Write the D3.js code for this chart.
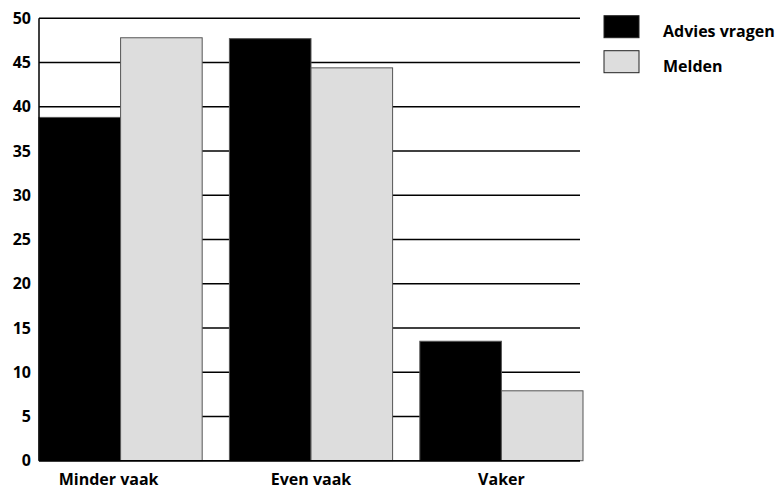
<!DOCTYPE html>
<html>
<head>
<meta charset="utf-8">
<script src="https://cdn.jsdelivr.net/npm/d3@7"></script>
<style>
  html, body { margin: 0; padding: 0; background: #fff; }
  svg { display: block; font-family: "Open Sans", sans-serif; font-weight: 700; }
</style>
</head>
<body>
<svg id="chart" width="781" height="489"></svg>
<script>
// Categories, series and values
const categories = ["Minder vaak", "Even vaak", "Vaker"];
const seriesNames = ["Advies vragen", "Melden"];
const adviesVragen = [38.8, 47.7, 13.5];
const melden = [47.8, 44.4, 7.9];
const yTicks = [0, 5, 10, 15, 20, 25, 30, 35, 40, 45, 50];
const seriesColors = ["#000000", "#dddddd"];

const rows = categories.map((c, i) => ({ category: c, values: [adviesVragen[i], melden[i]] }));

const svg = d3.select("#chart");
const plotLeft = 39, plotRight = 583, plotTop = 18.3, plotBottom = 460.7, gridRight = 580;
const fontSize = 16;

const x = d3.scaleBand().domain(categories).range([plotLeft, plotRight])
  .paddingInner(0.143).paddingOuter(0);
const xSub = d3.scaleBand().domain(seriesNames).range([0, x.bandwidth()]).padding(0);
const y = d3.scaleLinear().domain([0, 50]).range([plotBottom, plotTop]);

// Horizontal gridlines
svg.append("g")
  .selectAll("line")
  .data(yTicks)
  .join("line")
  .attr("x1", plotLeft).attr("x2", gridRight)
  .attr("y1", d => y(d)).attr("y2", d => y(d))
  .attr("stroke", "#000").attr("stroke-width", 1.5);

// Bars
const groups = svg.append("g")
  .selectAll("g")
  .data(rows)
  .join("g")
  .attr("transform", d => `translate(${x(d.category)},0)`);

groups.selectAll("rect")
  .data(d => d.values.map((v, j) => ({ name: seriesNames[j], value: v, j })))
  .join("rect")
  .attr("x", d => xSub(d.name))
  .attr("width", xSub.bandwidth())
  .attr("y", d => y(d.value))
  .attr("height", d => y(0) - y(d.value))
  .attr("fill", d => seriesColors[d.j])
  .attr("stroke", "#555")
  .attr("stroke-width", 1);

// Left axis line and baseline
svg.append("line")
  .attr("x1", plotLeft).attr("x2", plotLeft).attr("y1", plotTop).attr("y2", plotBottom)
  .attr("stroke", "#000").attr("stroke-width", 1.5);
svg.append("line")
  .attr("x1", plotLeft).attr("x2", gridRight).attr("y1", plotBottom).attr("y2", plotBottom)
  .attr("stroke", "#000").attr("stroke-width", 1.5);

// Y axis labels
const yAxis = d3.axisLeft(y).tickValues(yTicks).tickSize(0).tickPadding(8);
const gy = svg.append("g").attr("transform", `translate(${plotLeft},0)`).call(yAxis);
gy.select(".domain").remove();
gy.selectAll("text")
  .attr("font-family", "'Open Sans', sans-serif")
  .attr("font-weight", 700)
  .attr("font-size", fontSize)
  .attr("fill", "#000");

// X axis labels
const xAxis = d3.axisBottom(x).tickSize(0).tickPadding(0);
const gx = svg.append("g").attr("transform", `translate(0,${plotBottom})`).call(xAxis);
gx.select(".domain").remove();
gx.selectAll("text")
  .attr("font-family", "'Open Sans', sans-serif")
  .attr("font-weight", 700)
  .attr("font-size", fontSize)
  .attr("fill", "#000")
  .attr("dy", null)
  .attr("y", 24)
  .attr("dx", (d, i) => i === 0 ? -12 : 0);

// Legend
const legend = svg.append("g")
  .selectAll("g")
  .data(seriesNames)
  .join("g")
  .attr("transform", (d, i) => `translate(604,${15.7 + i * 35})`);
legend.append("rect")
  .attr("width", 35).attr("height", 22)
  .attr("fill", (d, i) => seriesColors[i])
  .attr("stroke", "#222").attr("stroke-width", 1);
legend.append("text")
  .attr("x", 59).attr("y", 21.8)
  .attr("font-size", fontSize)
  .attr("fill", "#000")
  .text(d => d);
</script>
</body>
</html>
